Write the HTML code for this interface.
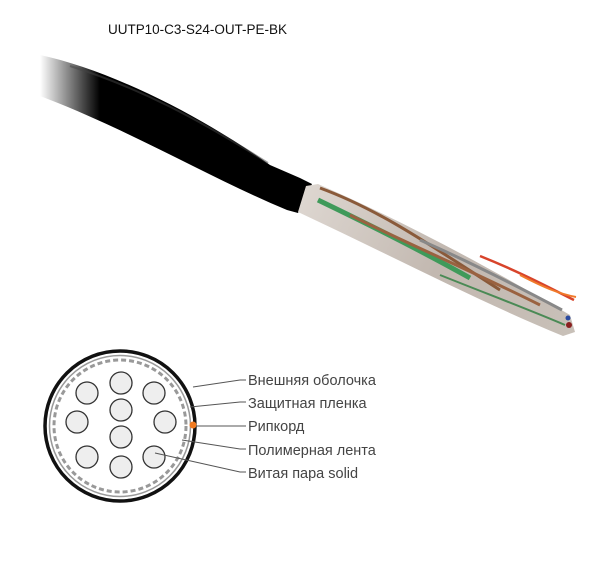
<!DOCTYPE html>
<html><head><meta charset="utf-8"><style>
html,body{margin:0;padding:0;background:#fff;width:614px;height:588px;overflow:hidden}
</style></head><body>
<svg width="614" height="588" viewBox="0 0 614 588" xmlns="http://www.w3.org/2000/svg">
<defs>
<linearGradient id="fade" x1="40" y1="0" x2="100" y2="0" gradientUnits="userSpaceOnUse">
<stop offset="0" stop-color="#000" stop-opacity="0"/><stop offset="1" stop-color="#000" stop-opacity="1"/>
</linearGradient>
<linearGradient id="wire" x1="305" y1="195" x2="575" y2="330" gradientUnits="userSpaceOnUse">
<stop offset="0" stop-color="#ddd6d0"/><stop offset="0.5" stop-color="#c2b8b0"/><stop offset="1" stop-color="#c8c0b8"/>
</linearGradient>
</defs>
<text x="108" y="34" font-family="Liberation Sans, sans-serif" font-size="13.5" fill="#111" textLength="179">UUTP10-C3-S24-OUT-PE-BK</text>
<!-- cable jacket -->
<path d="M40,55 C110,70 200,115 270,165 L300,178 L312,184 L298,213 L287,210 C210,178 130,130 40,96 Z" fill="url(#fade)"/>
<path d="M70,66 C140,88 200,120 268,163" stroke="#444" stroke-width="2" fill="none" opacity="0.5"/>
<!-- wires bundle -->
<path d="M306,186 L318,184 C400,220 480,262 570,315 L575,332 L563,336 C480,302 390,255 298,212 Z" fill="url(#wire)"/>
<path d="M318,200 C370,225 420,250 470,278" stroke="#3f9a5a" stroke-width="5" fill="none"/>
<path d="M320,188 C380,210 430,245 500,290" stroke="#8a5a3a" stroke-width="3" fill="none"/>
<path d="M350,215 C410,245 470,270 540,305" stroke="#9a6240" stroke-width="3" fill="none"/>
<path d="M420,240 C470,262 515,285 562,310" stroke="#888" stroke-width="3" fill="none"/>
<path d="M480,256 C520,272 550,288 574,300" stroke="#d8442b" stroke-width="2.5" fill="none"/>
<path d="M520,275 C545,288 560,294 576,297" stroke="#f07a2a" stroke-width="2" fill="none"/>
<path d="M440,275 C490,295 530,310 565,325" stroke="#4a8a55" stroke-width="2" fill="none"/>
<circle cx="568" cy="318" r="2.5" fill="#2a4aa0"/>
<circle cx="569" cy="325" r="3" fill="#8a2020"/>
<!-- cross-section -->
<circle cx="120" cy="426" r="75" fill="#fff" stroke="#111" stroke-width="3.5"/>
<circle cx="120" cy="426" r="70.5" fill="none" stroke="#999" stroke-width="1.5"/>
<circle cx="120" cy="426" r="66" fill="none" stroke="#999" stroke-width="3" stroke-dasharray="5 3"/>
<g fill="#eee" stroke="#333" stroke-width="1.3">
<circle cx="121" cy="383" r="11"/><circle cx="87" cy="393" r="11"/><circle cx="154" cy="393" r="11"/>
<circle cx="121" cy="410" r="11"/><circle cx="77" cy="422" r="11"/><circle cx="165" cy="422" r="11"/>
<circle cx="121" cy="437" r="11"/><circle cx="87" cy="457" r="11"/><circle cx="154" cy="457" r="11"/>
<circle cx="121" cy="467" r="11"/>
</g>
<circle cx="193" cy="425" r="3.5" fill="#f07a20"/>
<g stroke="#555" stroke-width="1" fill="none">
<polyline points="193,387 240,380 246,380"/>
<polyline points="190,407 240,402 246,402"/>
<polyline points="196,426 246,426"/>
<polyline points="182,440 240,449 246,449"/>
<polyline points="155,453 240,472 246,472"/>
</g>
<g font-family="Liberation Sans, sans-serif" font-size="14.5" fill="#444">
<text x="248" y="385">Внешняя оболочка</text>
<text x="248" y="408">Защитная пленка</text>
<text x="248" y="431">Рипкорд</text>
<text x="248" y="455">Полимерная лента</text>
<text x="248" y="478">Витая пара solid</text>
</g>
</svg>
</body></html>
